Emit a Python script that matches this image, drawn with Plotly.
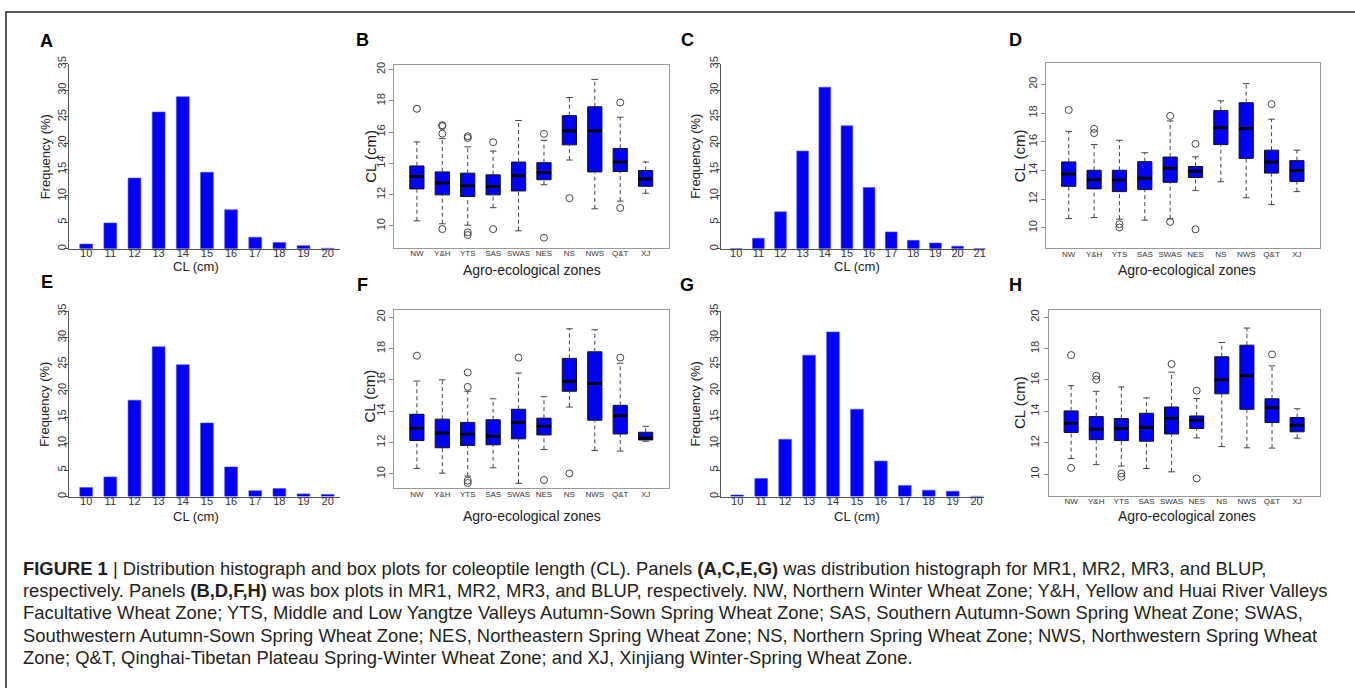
import plotly.graph_objects as go

W, H = 1355, 688

# ---------------- data ----------------
BINS_A = list(range(10, 21))
FREQ_A = [0.9, 4.9, 13.4, 25.9, 28.8, 14.5, 7.4, 2.2, 1.2, 0.6, 0.1]
BINS_C = list(range(10, 22))
FREQ_C = [0.05, 2.0, 7.0, 18.5, 30.6, 23.3, 11.6, 3.2, 1.6, 1.1, 0.5, 0.05]
BINS_E = list(range(10, 21))
FREQ_E = [1.7, 3.7, 18.2, 28.3, 24.9, 13.9, 5.6, 1.1, 1.5, 0.5, 0.4]
BINS_G = list(range(10, 21))
FREQ_G = [0.3, 3.4, 10.8, 26.7, 31.1, 16.5, 6.7, 2.1, 1.2, 1.0, 0.05]

ZONES = ["NW", "Y&H", "YTS", "SAS", "SWAS", "NES", "NS", "NWS", "Q&T", "XJ"]

# MR1 (panel B)
B_lo  = [10.32, 10.13, 10.04, 11.16, 9.68, 12.63, 14.21, 11.09, 11.58, 12.08]
B_q1  = [12.36, 11.98, 11.87, 11.98, 12.23, 12.95, 15.18, 13.45, 13.47, 12.53]
B_med = [13.16, 12.74, 12.57, 12.51, 13.20, 13.41, 16.08, 16.08, 14.08, 12.99]
B_q3  = [13.83, 13.45, 13.37, 13.26, 14.08, 14.04, 17.05, 17.62, 14.95, 13.54]
B_hi  = [15.37, 15.58, 15.05, 14.78, 16.74, 15.47, 18.21, 19.37, 16.95, 14.08]
B_out = [[17.49], [16.44, 16.38, 15.9, 9.79], [15.73, 15.62, 9.58, 9.41], [15.35, 9.79],
         [], [15.89, 9.24], [11.77], [], [17.89, 11.14], []]

# MR2 (panel D)
D_lo  = [10.64, 10.71, 10.60, 10.53, 10.62, 12.59, 13.21, 12.09, 11.61, 12.52]
D_q1  = [12.89, 12.71, 12.52, 12.66, 13.17, 13.51, 15.80, 14.84, 13.81, 13.23]
D_med = [13.74, 13.35, 13.33, 13.46, 14.15, 13.94, 16.97, 16.93, 14.59, 13.99]
D_q3  = [14.59, 14.01, 14.01, 14.61, 14.93, 14.27, 18.17, 18.72, 15.41, 14.68]
D_hi  = [16.72, 15.80, 16.10, 15.23, 17.45, 14.95, 18.85, 20.05, 17.57, 15.41]
D_out = [[18.21], [16.9, 16.6], [10.25, 10.02], [], [17.8, 10.41], [15.85, 9.89],
         [], [], [18.62], []]

# MR3 (panel F)
F_lo  = [10.34, 10.04, 9.85, 10.38, 9.39, 11.55, 14.26, 11.49, 11.45, 12.08]
F_q1  = [12.12, 11.66, 11.81, 11.85, 12.23, 12.48, 15.27, 13.42, 12.54, 12.16]
F_med = [12.90, 12.61, 12.52, 12.39, 13.28, 13.03, 15.90, 15.76, 13.70, 12.29]
F_q3  = [13.80, 13.49, 13.28, 13.45, 14.12, 13.55, 17.37, 17.79, 14.37, 12.65]
F_hi  = [15.92, 16.00, 15.27, 14.79, 16.43, 14.92, 19.26, 19.20, 17.06, 13.03]
F_out = [[17.54], [], [16.47, 15.55, 9.56, 9.41], [], [17.42], [9.60], [10.02], [],
         [17.42], []]

# BLUP (panel H)
H_lo  = [10.99, 10.61, 10.52, 10.36, 10.15, 12.31, 11.76, 11.68, 11.66, 12.29]
H_q1  = [12.66, 12.20, 12.14, 12.10, 12.56, 12.91, 15.12, 14.13, 13.29, 12.70]
H_med = [13.25, 12.87, 12.91, 12.98, 13.56, 13.44, 16.02, 16.27, 14.23, 13.12]
H_q3  = [14.03, 13.67, 13.54, 13.88, 14.28, 13.71, 17.48, 18.22, 14.80, 13.61]
H_hi  = [15.64, 15.28, 15.56, 14.86, 16.50, 14.82, 18.39, 19.31, 16.90, 14.17]
H_out = [[17.59, 10.40], [16.27, 16.02], [10.04, 9.83], [], [17.02], [15.32, 9.73],
         [], [], [17.63], []]

HIST_TICKS = [0, 5, 10, 15, 20, 25, 30, 35]
BOX_TICKS = [10, 12, 14, 16, 18, 20]

CAPTION = [
    "<b>FIGURE 1</b> | Distribution histograph and box plots for coleoptile length (CL). Panels <b>(A,C,E,G)</b> was distribution histograph for MR1, MR2, MR3, and BLUP,",
    "respectively. Panels <b>(B,D,F,H)</b> was box plots in MR1, MR2, MR3, and BLUP, respectively. NW, Northern Winter Wheat Zone; Y&H, Yellow and Huai River Valleys",
    "Facultative Wheat Zone; YTS, Middle and Low Yangtze Valleys Autumn-Sown Spring Wheat Zone; SAS, Southern Autumn-Sown Spring Wheat Zone; SWAS,",
    "Southwestern Autumn-Sown Spring Wheat Zone; NES, Northeastern Spring Wheat Zone; NS, Northern Spring Wheat Zone; NWS, Northwestern Spring Wheat",
    "Zone; Q&T, Qinghai-Tibetan Plateau Spring-Winter Wheat Zone; and XJ, Xinjiang Winter-Spring Wheat Zone.",
]

# ---------------- helpers ----------------
def px(x):
    return x / W

def py(y):
    return 1 - y / H

FONT = "Liberation Sans, Arial, sans-serif"
BLUE = "#0000FF"
AX = "#555555"

fig = go.Figure()
layout = dict(
    width=W, height=H, autosize=False,
    margin=dict(l=0, r=0, t=0, b=0),
    paper_bgcolor="white", plot_bgcolor="white",
    showlegend=False, font=dict(family=FONT, color="#333333"),
)
annotations = []

def add_text(text, x, y, size, angle=0, bold=False, color="#222222", xanchor="center"):
    annotations.append(dict(
        text=f"<b>{text}</b>" if bold else text, x=px(x), y=py(y),
        xref="paper", yref="paper", showarrow=False, textangle=angle,
        xanchor=xanchor, yanchor="middle",
        font=dict(family=FONT, size=size, color=color)))

def hist_panel(n, bins, freqs, xr, box, label, lab_xy, ytitle_x, xtitle_xy):
    x0, x1, y0, y1 = box
    xa, ya = f"xaxis{n}", f"yaxis{n}"
    fig.add_trace(go.Bar(x=bins, y=freqs, width=0.53,
                         marker=dict(color=BLUE, line=dict(width=0.6, color="#5050ff")),
                         xaxis=f"x{n}", yaxis=f"y{n}"))
    layout[xa] = dict(domain=[px(x0), px(x1)], anchor=f"y{n}", range=xr,
                      tickvals=bins, ticks="", showline=True, linecolor=AX, linewidth=1,
                      ticklabelstandoff=-6,
                      showgrid=False, zeroline=False, tickfont=dict(size=11, color="#333"))
    layout[ya] = dict(domain=[py(y1), py(y0)], anchor=f"x{n}", range=[0, 35],
                      tickvals=HIST_TICKS, tickangle=-90, ticks="outside", ticklen=4,
                      ticklabelstandoff=-6,
                      tickcolor=AX, showline=True, linecolor=AX, linewidth=1,
                      showgrid=False, zeroline=False, tickfont=dict(size=11, color="#333"))
    add_text(label, lab_xy[0], lab_xy[1], 18, bold=True, color="black")
    add_text("Frequency (%)", ytitle_x, (y0 + y1) / 2, 13, angle=-90)
    add_text("CL (cm)", xtitle_xy[0], xtitle_xy[1], 13)

def box_panel(n, lo, q1, med, q3, hi, outs, yr, box, label, lab_xy, ytitle_xy, xtitle_xy):
    x0, x1, y0, y1 = box
    xs = list(range(1, len(ZONES) + 1))
    kw = dict(xaxis=f"x{n}", yaxis=f"y{n}")
    # dashed whiskers
    wx, wy = [], []
    for i, a, b, c, d in zip(xs, lo, q1, q3, hi):
        wx += [i, i, None, i, i, None]
        wy += [a, b, None, c, d, None]
    fig.add_trace(go.Scatter(x=wx, y=wy, mode="lines",
                             line=dict(color="#444", width=1, dash="4px,3px"), **kw))
    # whisker caps
    cx, cy = [], []
    for i, a, d in zip(xs, lo, hi):
        cx += [i - 0.13, i + 0.13, None, i - 0.13, i + 0.13, None]
        cy += [a, a, None, d, d, None]
    fig.add_trace(go.Scatter(x=cx, y=cy, mode="lines", line=dict(color="#444", width=1), **kw))
    # boxes
    fig.add_trace(go.Box(x=xs, q1=q1, median=med, q3=q3, lowerfence=q1, upperfence=q3,
                         width=0.56, whiskerwidth=0, fillcolor=BLUE,
                         line=dict(color="#111", width=1), boxpoints=False, **kw))
    # thick medians
    mx, my = [], []
    for i, m in zip(xs, med):
        mx += [i - 0.28, i + 0.28, None]
        my += [m, m, None]
    fig.add_trace(go.Scatter(x=mx, y=my, mode="lines", line=dict(color="black", width=3), **kw))
    # outliers
    ox, oy = [], []
    for i, o in zip(xs, outs):
        ox += [i] * len(o)
        oy += o
    fig.add_trace(go.Scatter(x=ox, y=oy, mode="markers",
                             marker=dict(symbol="circle-open", size=7, color="#444",
                                         line=dict(width=1, color="#444")), **kw))
    layout[f"xaxis{n}"] = dict(domain=[px(x0), px(x1)], anchor=f"y{n}", range=[0.1, 10.9],
                               tickvals=xs, ticktext=ZONES, ticks="", showline=True, mirror=True,
                               linecolor="#999", linewidth=1, showgrid=False, zeroline=False,
                               ticklabelstandoff=-2,
                               tickfont=dict(size=8, color="#333"))
    layout[f"yaxis{n}"] = dict(domain=[py(y1), py(y0)], anchor=f"x{n}", range=yr,
                               tickvals=BOX_TICKS, tickangle=-90, ticks="outside", ticklen=4,
                               tickcolor="#888", showline=True, mirror=True, linecolor="#999",
                               linewidth=1, showgrid=False, zeroline=False,
                               tickfont=dict(size=11, color="#333"))
    add_text(label, lab_xy[0], lab_xy[1], 18, bold=True, color="black")
    add_text("CL (cm)", ytitle_xy[0], ytitle_xy[1], 15, angle=-90)
    add_text("Agro-ecological zones", xtitle_xy[0], xtitle_xy[1], 14)

# ---------------- panels ----------------
hist_panel("", BINS_A, FREQ_A, [9.3, 20.5], (69.3, 340, 56.7, 244), "A", (47, 33), 45, (196, 262))
box_panel(2, B_lo, B_q1, B_med, B_q3, B_hi, B_out, [8.61, 20.32], (394.3, 669, 57.3, 242.7),
          "B", (363, 32), (370, 150), (532, 265))
hist_panel(3, BINS_C, FREQ_C, [9.32, 21.25], (721.7, 986, 56.7, 244), "C", (688, 32), 696, (858, 262))
box_panel(4, D_lo, D_q1, D_med, D_q3, D_hi, D_out, [8.58, 21.47], (1046.7, 1320.7, 56, 243.3),
          "D", (1016, 32), (1020, 150), (1188, 265))
hist_panel(5, BINS_E, FREQ_E, [9.3, 20.5], (69.3, 340, 307.3, 495), "E", (47, 278), 45, (196, 515))
box_panel(6, F_lo, F_q1, F_med, F_q3, F_hi, F_out, [9.07, 20.46], (394.3, 669, 306, 486.7),
          "F", (363, 281), (370, 393), (532, 515))
hist_panel(7, BINS_G, FREQ_G, [9.33, 20.32], (721.7, 985, 307.3, 495), "G", (688, 281), 696, (858, 515))
box_panel(8, H_lo, H_q1, H_med, H_q3, H_hi, H_out, [8.62, 20.46], (1049.3, 1320.7, 306, 494.3),
          "H", (1016, 281), (1021, 400), (1188, 515))

# caption
for k, line in enumerate(CAPTION):
    add_text(line, 21, 568 + k * 22.5, 18.4, color="#231f20", xanchor="left")

layout["annotations"] = annotations
layout["shapes"] = [dict(type="rect", xref="paper", yref="paper",
                         x0=px(6), x1=1.05, y0=-0.05, y1=py(4),
                         line=dict(color="#222", width=1.5), fillcolor="rgba(0,0,0,0)")]
fig.update_layout(**layout)
fig.write_html("out.html")
